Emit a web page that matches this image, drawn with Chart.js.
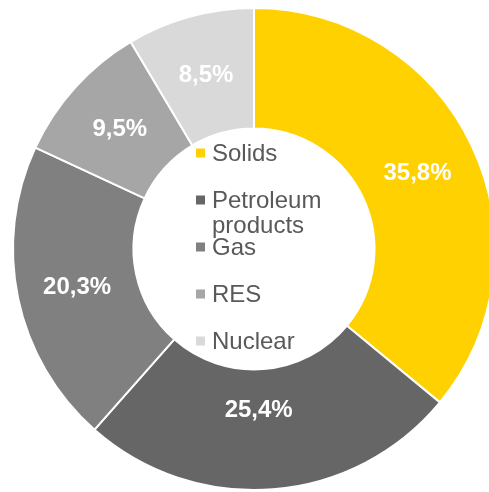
<!DOCTYPE html>
<html>
<head>
<meta charset="utf-8">
<script src="https://cdn.jsdelivr.net/npm/chart.js@4/dist/chart.umd.min.js"></script>
<style>
  html, body { margin: 0; padding: 0; background: #ffffff; overflow: hidden; }
  #wrap { width: 508px; height: 492px; }
</style>
</head>
<body>
<div id="wrap"><canvas id="chart" width="508" height="492"></canvas></div>
<script>
// Energy mix by source, share in %
const categories = ['Solids', 'Petroleum products', 'Gas', 'RES', 'Nuclear'];
const shares = [35.8, 25.4, 20.3, 9.5, 8.5];
const sliceColors = ['#FFD100', '#666666', '#808080', '#A6A6A6', '#D9D9D9'];

const FONT = '"Liberation Sans", Arial, Helvetica, sans-serif';

const fmtPct = v => v.toFixed(1).replace('.', ',') + '%';

// Value labels placed in the middle of each ring segment
const sliceLabels = {
  id: 'sliceLabels',
  afterDatasetsDraw(chart, args, opts) {
    const ctx = chart.ctx;
    const meta = chart.getDatasetMeta(0);
    const values = chart.data.datasets[0].data;
    ctx.save();
    ctx.font = 'bold 24px ' + FONT;
    ctx.fillStyle = '#ffffff';
    ctx.textAlign = 'center';
    ctx.textBaseline = 'middle';
    meta.data.forEach((arc, i) => {
      const p = arc.getProps(['x', 'y', 'startAngle', 'endAngle', 'innerRadius', 'outerRadius'], true);
      const mid = (p.startAngle + p.endAngle) / 2;
      const r = (p.innerRadius + p.outerRadius) / 2 + ((opts.radialShift || {})[i] || 0);
      const ang = mid + ((opts.angleShift || {})[i] || 0);
      ctx.fillText(fmtPct(values[i]), p.x + Math.cos(ang) * r, p.y + Math.sin(ang) * r + 1);
    });
    ctx.restore();
  }
};

// Legend drawn inside the doughnut hole
const centerLegend = {
  id: 'centerLegend',
  afterDraw(chart, args, opts) {
    const ctx = chart.ctx;
    const meta = chart.getDatasetMeta(0);
    const arc0 = meta.data[0];
    if (!arc0) return;
    const cx = arc0.x, cy = arc0.y;
    const labels = chart.data.labels;
    const colors = chart.data.datasets[0].backgroundColor;
    const step = opts.step;
    const box = opts.boxSize;
    const x0 = cx + opts.offsetX;
    const yStart = cy + opts.offsetY - step * (labels.length - 1) / 2;
    ctx.save();
    ctx.font = '24px ' + FONT;
    ctx.textAlign = 'left';
    ctx.textBaseline = 'alphabetic';
    labels.forEach((label, i) => {
      const yc = yStart + i * step;
      ctx.fillStyle = colors[i];
      ctx.fillRect(x0, yc - box / 2, box, box);
      // simple word wrap
      const words = String(label).split(' ');
      const lines = [];
      let line = '';
      words.forEach(w => {
        const test = line ? line + ' ' + w : w;
        if (line && ctx.measureText(test).width > opts.maxWidth) {
          lines.push(line);
          line = w;
        } else {
          line = test;
        }
      });
      lines.push(line);
      ctx.fillStyle = '#595959';
      lines.forEach((ln, k) => {
        ctx.fillText(ln, x0 + box + 7, yc + 8 + k * opts.lineHeight);
      });
    });
    ctx.restore();
  }
};

new Chart(document.getElementById('chart'), {
  type: 'doughnut',
  data: {
    labels: categories,
    datasets: [{
      data: shares,
      backgroundColor: sliceColors,
      borderColor: '#ffffff',
      borderWidth: 2,
      hoverOffset: 0
    }]
  },
  options: {
    responsive: false,
    animation: false,
    cutout: '50%',
    layout: { padding: { left: 12, right: 12, top: 7, bottom: 1 } },
    plugins: {
      legend: { display: false },
      tooltip: { enabled: false },
      sliceLabels: { radialShift: { 1: -20 }, angleShift: { 1: 0.05 } },
      centerLegend: { step: 47, boxSize: 9, offsetX: -58, offsetY: -2, maxWidth: 125, lineHeight: 25 }
    }
  },
  plugins: [sliceLabels, centerLegend]
});
</script>
</body>
</html>
